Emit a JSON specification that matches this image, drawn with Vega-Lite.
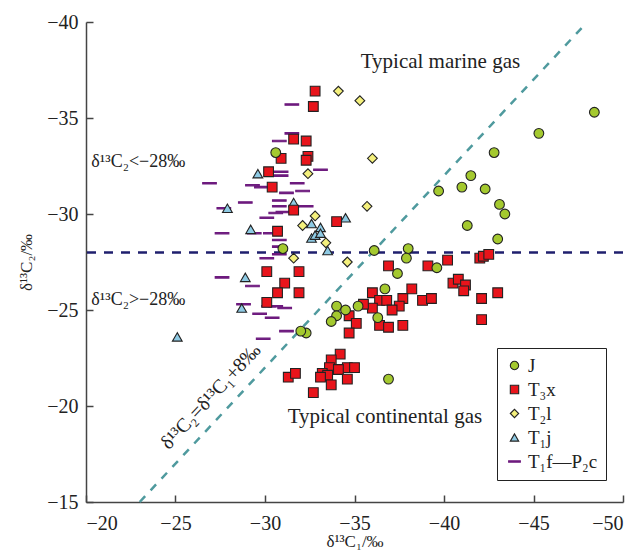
{
  "$schema": "https://vega.github.io/schema/vega-lite/v6.json",
  "autosize": {"type": "none"},
  "width": 537,
  "height": 480,
  "padding": {"left": 86, "top": 22, "right": 15, "bottom": 53},
  "background": "white",
  "config": {
    "view": {"stroke": null},
    "font": "Liberation Serif",
    "axis": {"grid": false, "labelFont": "Liberation Serif", "titleFont": "Liberation Serif", "labelFontSize": 20, "titleFontSize": 17, "titleFontWeight": "normal", "labelColor": "#222", "titleColor": "#222", "domainColor": "#444", "domainWidth": 1.5, "tickColor": "#444", "tickWidth": 1.5, "tickSize": -7}
  },
  "layer": [
    {
      "data": {"values": [{"y": -28}]},
      "mark": {"type": "rule", "color": "#1f1f6e", "strokeWidth": 2.5, "strokeDash": [9, 8]},
      "encoding": {"y": {"field": "y", "type": "quantitative", "scale": {"domain": [-40, -15], "reverse": true, "nice": false}}}
    },
    {
      "data": {"values": [{"x": -23, "y": -15}, {"x": -47.8, "y": -39.8}]},
      "mark": {"type": "line", "color": "#4f9a9e", "strokeWidth": 2.5, "strokeDash": [8, 8]},
      "encoding": {
        "x": {"field": "x", "type": "quantitative"},
        "y": {"field": "y", "type": "quantitative"}
      }
    },
    {
      "data": {"values": [
        {"g": "T₁f—P₂c", "x": -31.5, "y": -35.7}, {"g": "T₁f—P₂c", "x": -31.5, "y": -34.2}, {"g": "T₁f—P₂c", "x": -30.8, "y": -33.8},
        {"g": "T₁f—P₂c", "x": -26.9, "y": -31.6}, {"g": "T₁f—P₂c", "x": -29.3, "y": -31.5}, {"g": "T₁f—P₂c", "x": -29.8, "y": -31.4},
        {"g": "T₁f—P₂c", "x": -30.9, "y": -32.2}, {"g": "T₁f—P₂c", "x": -30.9, "y": -32.0}, {"g": "T₁f—P₂c", "x": -31.8, "y": -31.6},
        {"g": "T₁f—P₂c", "x": -31.2, "y": -31.1}, {"g": "T₁f—P₂c", "x": -32.1, "y": -31.2}, {"g": "T₁f—P₂c", "x": -33.1, "y": -32.3},
        {"g": "T₁f—P₂c", "x": -28.9, "y": -30.6}, {"g": "T₁f—P₂c", "x": -30.8, "y": -30.7}, {"g": "T₁f—P₂c", "x": -30.8, "y": -30.4},
        {"g": "T₁f—P₂c", "x": -32.3, "y": -30.4}, {"g": "T₁f—P₂c", "x": -30.1, "y": -29.8}, {"g": "T₁f—P₂c", "x": -30.6, "y": -30.05},
        {"g": "T₁f—P₂c", "x": -31.0, "y": -30.1}, {"g": "T₁f—P₂c", "x": -27.7, "y": -30.3}, {"g": "T₁f—P₂c", "x": -27.6, "y": -29.0},
        {"g": "T₁f—P₂c", "x": -29.4, "y": -29.0}, {"g": "T₁f—P₂c", "x": -30.3, "y": -29.0}, {"g": "T₁f—P₂c", "x": -30.8, "y": -28.65},
        {"g": "T₁f—P₂c", "x": -30.8, "y": -28.3}, {"g": "T₁f—P₂c", "x": -30.1, "y": -27.7}, {"g": "T₁f—P₂c", "x": -30.8, "y": -27.9},
        {"g": "T₁f—P₂c", "x": -27.6, "y": -26.7}, {"g": "T₁f—P₂c", "x": -29.3, "y": -26.25}, {"g": "T₁f—P₂c", "x": -28.8, "y": -25.3},
        {"g": "T₁f—P₂c", "x": -29.7, "y": -24.8}, {"g": "T₁f—P₂c", "x": -30.4, "y": -24.6}, {"g": "T₁f—P₂c", "x": -30.2, "y": -25.2},
        {"g": "T₁f—P₂c", "x": -30.6, "y": -25.2}, {"g": "T₁f—P₂c", "x": -31.1, "y": -25.1}, {"g": "T₁f—P₂c", "x": -31.2, "y": -23.9},
        {"g": "T₁f—P₂c", "x": -29.9, "y": -23.5},
        {"g": "T₁j", "x": -29.6, "y": -32.1}, {"g": "T₁j", "x": -27.9, "y": -30.3}, {"g": "T₁j", "x": -29.2, "y": -29.2},
        {"g": "T₁j", "x": -31.6, "y": -30.6}, {"g": "T₁j", "x": -32.6, "y": -29.5}, {"g": "T₁j", "x": -33.1, "y": -29.3},
        {"g": "T₁j", "x": -34.5, "y": -29.8}, {"g": "T₁j", "x": -32.6, "y": -28.75}, {"g": "T₁j", "x": -32.8, "y": -28.9},
        {"g": "T₁j", "x": -33.1, "y": -29.0}, {"g": "T₁j", "x": -33.5, "y": -28.1}, {"g": "T₁j", "x": -28.9, "y": -26.7},
        {"g": "T₁j", "x": -28.7, "y": -25.1}, {"g": "T₁j", "x": -25.1, "y": -23.6},
        {"g": "T₃x", "x": -32.8, "y": -36.4}, {"g": "T₃x", "x": -32.7, "y": -35.6}, {"g": "T₃x", "x": -31.6, "y": -33.9},
        {"g": "T₃x", "x": -32.3, "y": -33.8}, {"g": "T₃x", "x": -32.4, "y": -33.0}, {"g": "T₃x", "x": -32.3, "y": -32.8},
        {"g": "T₃x", "x": -30.9, "y": -32.9}, {"g": "T₃x", "x": -30.2, "y": -32.2}, {"g": "T₃x", "x": -30.4, "y": -31.4},
        {"g": "T₃x", "x": -31.6, "y": -30.2}, {"g": "T₃x", "x": -30.7, "y": -29.1}, {"g": "T₃x", "x": -34.0, "y": -29.6},
        {"g": "T₃x", "x": -30.1, "y": -27.0}, {"g": "T₃x", "x": -31.9, "y": -27.0}, {"g": "T₃x", "x": -31.1, "y": -26.4},
        {"g": "T₃x", "x": -30.7, "y": -25.9}, {"g": "T₃x", "x": -31.9, "y": -25.9}, {"g": "T₃x", "x": -30.1, "y": -25.4},
        {"g": "T₃x", "x": -36.9, "y": -27.3}, {"g": "T₃x", "x": -39.1, "y": -27.3}, {"g": "T₃x", "x": -40.2, "y": -27.6},
        {"g": "T₃x", "x": -42.0, "y": -27.7}, {"g": "T₃x", "x": -42.2, "y": -27.8}, {"g": "T₃x", "x": -42.5, "y": -27.9},
        {"g": "T₃x", "x": -40.5, "y": -26.4}, {"g": "T₃x", "x": -40.8, "y": -26.6}, {"g": "T₃x", "x": -41.2, "y": -26.3},
        {"g": "T₃x", "x": -41.1, "y": -26.0}, {"g": "T₃x", "x": -42.1, "y": -25.6}, {"g": "T₃x", "x": -43.0, "y": -25.9},
        {"g": "T₃x", "x": -42.1, "y": -24.5}, {"g": "T₃x", "x": -38.2, "y": -26.1}, {"g": "T₃x", "x": -36.0, "y": -25.9},
        {"g": "T₃x", "x": -36.4, "y": -25.5}, {"g": "T₃x", "x": -36.8, "y": -25.5}, {"g": "T₃x", "x": -36.0, "y": -25.1},
        {"g": "T₃x", "x": -35.5, "y": -25.3}, {"g": "T₃x", "x": -37.7, "y": -25.6}, {"g": "T₃x", "x": -37.5, "y": -25.2},
        {"g": "T₃x", "x": -37.1, "y": -25.0}, {"g": "T₃x", "x": -38.8, "y": -25.5}, {"g": "T₃x", "x": -39.3, "y": -25.6},
        {"g": "T₃x", "x": -34.7, "y": -24.7}, {"g": "T₃x", "x": -35.1, "y": -24.3}, {"g": "T₃x", "x": -36.4, "y": -24.2},
        {"g": "T₃x", "x": -36.9, "y": -24.1}, {"g": "T₃x", "x": -37.7, "y": -24.2}, {"g": "T₃x", "x": -34.7, "y": -23.8},
        {"g": "T₃x", "x": -34.2, "y": -22.7}, {"g": "T₃x", "x": -33.7, "y": -22.4}, {"g": "T₃x", "x": -33.6, "y": -22.0},
        {"g": "T₃x", "x": -34.6, "y": -22.0}, {"g": "T₃x", "x": -35.0, "y": -22.0}, {"g": "T₃x", "x": -34.1, "y": -21.9},
        {"g": "T₃x", "x": -33.2, "y": -21.7}, {"g": "T₃x", "x": -33.5, "y": -21.6}, {"g": "T₃x", "x": -33.1, "y": -21.5},
        {"g": "T₃x", "x": -34.6, "y": -21.4}, {"g": "T₃x", "x": -33.7, "y": -21.1}, {"g": "T₃x", "x": -32.7, "y": -20.7},
        {"g": "T₃x", "x": -31.3, "y": -21.5}, {"g": "T₃x", "x": -31.7, "y": -21.7},
        {"g": "T₂l", "x": -34.1, "y": -36.4}, {"g": "T₂l", "x": -35.3, "y": -35.9}, {"g": "T₂l", "x": -36.0, "y": -32.9},
        {"g": "T₂l", "x": -32.4, "y": -32.1}, {"g": "T₂l", "x": -35.7, "y": -30.4}, {"g": "T₂l", "x": -32.8, "y": -29.9},
        {"g": "T₂l", "x": -32.1, "y": -29.4}, {"g": "T₂l", "x": -33.4, "y": -28.5}, {"g": "T₂l", "x": -31.6, "y": -27.7},
        {"g": "T₂l", "x": -34.6, "y": -27.5},
        {"g": "J", "x": -48.4, "y": -35.3}, {"g": "J", "x": -45.3, "y": -34.2}, {"g": "J", "x": -42.8, "y": -33.2},
        {"g": "J", "x": -41.5, "y": -32.0}, {"g": "J", "x": -39.7, "y": -31.2}, {"g": "J", "x": -41.0, "y": -31.4},
        {"g": "J", "x": -42.3, "y": -31.3}, {"g": "J", "x": -43.1, "y": -30.5}, {"g": "J", "x": -43.4, "y": -30.0},
        {"g": "J", "x": -41.3, "y": -29.4}, {"g": "J", "x": -43.0, "y": -28.7}, {"g": "J", "x": -36.1, "y": -28.1},
        {"g": "J", "x": -38.0, "y": -28.2}, {"g": "J", "x": -37.9, "y": -27.7}, {"g": "J", "x": -39.6, "y": -27.2},
        {"g": "J", "x": -37.4, "y": -26.9}, {"g": "J", "x": -36.7, "y": -26.1}, {"g": "J", "x": -35.2, "y": -25.2},
        {"g": "J", "x": -34.0, "y": -25.2}, {"g": "J", "x": -34.5, "y": -25.0}, {"g": "J", "x": -34.0, "y": -24.7},
        {"g": "J", "x": -33.7, "y": -24.4}, {"g": "J", "x": -36.3, "y": -24.6}, {"g": "J", "x": -32.3, "y": -23.8},
        {"g": "J", "x": -32.0, "y": -23.9}, {"g": "J", "x": -36.9, "y": -21.4}, {"g": "J", "x": -30.6, "y": -33.2},
        {"g": "J", "x": -31.0, "y": -28.2}
      ]},
      "mark": {"type": "point", "filled": true, "size": 95, "strokeWidth": 1.1, "opacity": 1},
      "encoding": {
        "x": {"field": "x", "type": "quantitative", "scale": {"domain": [-50, -20], "reverse": true, "nice": false},
              "axis": {"values": [-20, -25, -30, -35, -40, -45, -50], "title": "δ¹³C₁/‰", "labelPadding": 18, "titlePadding": 0}},
        "y": {"field": "y", "type": "quantitative", "scale": {"domain": [-40, -15], "reverse": true, "nice": false},
              "axis": {"values": [-40, -35, -30, -25, -20, -15], "title": "δ¹³C₂/‰", "labelPadding": 15, "titlePadding": 11}},
        "shape": {"field": "g", "type": "nominal", "scale": {"domain": ["J", "T₃x", "T₂l", "T₁j", "T₁f—P₂c"], "range": ["circle", "square", "diamond", "triangle-up", "M-1.4,-0.15H1.4V0.15H-1.4Z"]},
                  "legend": {"title": null, "orient": "none", "legendX": 411, "legendY": 326, "padding": 8, "strokeColor": "#222", "fillColor": "white", "labelFont": "Liberation Serif", "labelFontSize": 19, "labelColor": "#222", "symbolSize": 70, "symbolStrokeWidth": 1.1, "rowPadding": 4, "labelOffset": 4, "labelLimit": 200}},
        "fill": {"field": "g", "type": "nominal", "scale": {"domain": ["J", "T₃x", "T₂l", "T₁j", "T₁f—P₂c"], "range": ["#a4c92f", "#e8141b", "#f4f07c", "#8ecae4", "#6d1a7e"]}},
        "stroke": {"field": "g", "type": "nominal", "scale": {"domain": ["J", "T₃x", "T₂l", "T₁j", "T₁f—P₂c"], "range": ["#222", "#222", "#222", "#222", "#6d1a7e"]}}
      }
    },
    {
      "data": {"values": [
        {"x": -39.8, "y": -37.9, "t": "Typical marine gas"},
        {"x": -36.7, "y": -19.45, "t": "Typical continental gas"}
      ]},
      "mark": {"type": "text", "font": "Liberation Serif", "fontSize": 21, "color": "#222", "align": "center", "baseline": "middle"},
      "encoding": {"x": {"field": "x", "type": "quantitative"}, "y": {"field": "y", "type": "quantitative"}, "text": {"field": "t"}}
    },
    {
      "data": {"values": [
        {"x": -20.3, "y": -32.7, "t": "δ¹³C₂<−28‰"},
        {"x": -20.3, "y": -25.5, "t": "δ¹³C₂>−28‰"}
      ]},
      "mark": {"type": "text", "font": "Liberation Serif", "fontSize": 18, "color": "#222", "align": "left", "baseline": "middle"},
      "encoding": {"x": {"field": "x", "type": "quantitative"}, "y": {"field": "y", "type": "quantitative"}, "text": {"field": "t"}}
    },
    {
      "data": {"values": [{"x": -26.97, "y": -20.48, "t": "δ¹³C₂=δ¹³C₁+8‰"}]},
      "mark": {"type": "text", "font": "Liberation Serif", "fontSize": 20, "color": "#222", "align": "center", "baseline": "middle", "angle": 313},
      "encoding": {"x": {"field": "x", "type": "quantitative"}, "y": {"field": "y", "type": "quantitative"}, "text": {"field": "t"}}
    }
  ]
}
